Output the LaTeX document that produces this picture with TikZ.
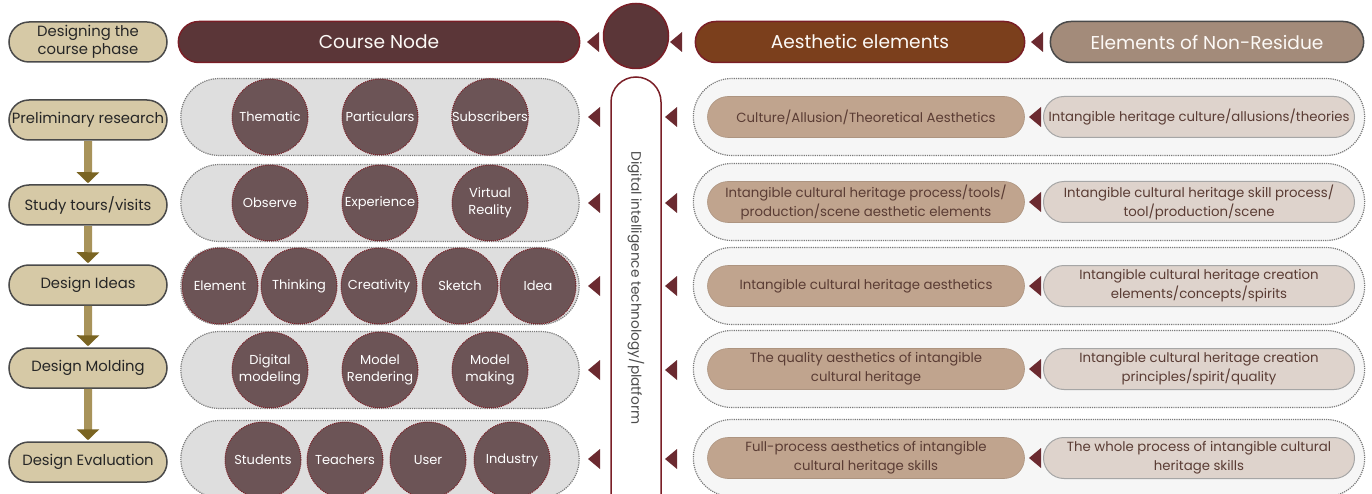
\documentclass[tikz,border=0pt]{standalone}
\usepackage{fontspec}
\setmainfont{Poppins}
\usepackage{tikz}
\usetikzlibrary{shapes.misc, arrows.meta, calc}
\definecolor{nodered}{HTML}{5B3638}
\definecolor{edgered}{HTML}{7A1E26}
\definecolor{aesbrown}{HTML}{7B3F1C}
\definecolor{resgray}{HTML}{A38B7A}
\definecolor{edgegray}{HTML}{4A4A4A}
\definecolor{phasetan}{HTML}{D6C9A6}
\definecolor{pillgray}{HTML}{DEDEDE}
\definecolor{pillwhite}{HTML}{F6F6F6}
\definecolor{dotgray}{HTML}{7A7A7A}
\definecolor{bubble}{HTML}{6C5456}
\definecolor{aesbox}{HTML}{C0A48E}
\definecolor{resbox}{HTML}{DED3CC}
\definecolor{boxtext}{HTML}{5A3C34}
\definecolor{arrowgold}{HTML}{7A6422}
\definecolor{shaftgold}{HTML}{A8935A}
\definecolor{pointcol}{HTML}{6B2A30}
\newcommand\pointer[1]{\fill[pointcol] (#1) +(-6,0) -- +(6,-10) -- +(6,10) -- cycle;}

\begin{document}
\begin{tikzpicture}[x=1pt,y=-1pt,
    phase/.style={draw=edgegray, line width=1.5pt, fill=phasetan, rounded rectangle,
        minimum width=160pt, minimum height=40pt, inner sep=1pt, align=center,
        text=black!85, font=\fontsize{14.8}{18}\selectfont},
    headbar/.style={draw=edgered, line width=1.5pt, rounded rectangle, minimum height=41pt,
        text=white!95!brown, font=\fontsize{18.6}{20}\selectfont},
    lpill/.style={draw=dotgray, densely dotted, line width=1.2pt, fill=pillgray,
        rounded rectangle, minimum width=405pt, minimum height=77pt},
    rpill/.style={draw=dotgray, densely dotted, line width=1.2pt, fill=pillwhite,
        rounded rectangle, minimum width=678pt, minimum height=77pt},
    bub/.style={circle, draw=edgered, densely dotted, line width=1pt, fill=bubble,
        minimum size=76pt, inner sep=0pt, align=center, text=white,
        font=\fontsize{13}{17}\selectfont},
    aes/.style={rounded rectangle, fill=aesbox, draw=aesbox!90!black, line width=.6pt,
        minimum width=319pt, minimum height=41pt, inner sep=1pt, align=center,
        text=boxtext, font=\fontsize{13.3}{19}\selectfont},
    res/.style={aes, fill=resbox, draw=gray!70, line width=1pt, minimum width=313pt},
    flow/.style={draw=shaftgold, line width=8pt, shorten >=1pt,
        -{Triangle[width=22pt, length=11pt, color=arrowgold]}}]
\useasboundingbox (0,0) rectangle (1372,494);

% header row
\node[phase] (head) at (88,42) {Designing the\\course phase};
\node[headbar, fill=nodered, minimum width=408pt] (course) at (379,42) {Course Node};
\node[circle, draw=edgered, line width=1.5pt, fill=nodered, minimum size=65pt] (hub) at (636,36) {};
\node[headbar, fill=aesbrown, minimum width=336pt] (aesthetic) at (860,42) {Aesthetic elements};
\node[headbar, fill=resgray, draw=edgegray, minimum width=320pt] (residue) at (1207,42) {Elements of Non-Residue};
\foreach \x in {593,676,1037} {\pointer{\x,42}}

% platform bar
\draw[edgered, line width=1.5pt, fill=white, rounded corners=25pt]
    (611,530) -- (611,77) -- (661,77) -- (661,530);
\node[rotate=-90, text=black!70, font=\fontsize{13.7}{14}\selectfont] (platform) at (636,288)
    {Digital intelligence technology/platform};

% phases
\foreach \y/\t [count=\i] in {120/Preliminary research, 205/{Study tours/visits},
    285/Design Ideas, 368/Design Molding, 462/Design Evaluation}
    \node[phase] (p\i) at (88,\y) {\t};
\foreach \a/\b in {p1/p2,p2/p3,p3/p4,p4/p5}
    \draw[flow] (\a) -- (\b);

% course node rows
\foreach \y [count=\i] in {117,203,286,370,459} {
    \node[lpill] (left\i) at (380,\y) {};
    \pointer{594,\y}
    \pointer{671,\y}
}
\foreach \x/\t [count=\i] in {270/Thematic, 380/Particulars, 490/Subscribers}
    \node[bub] (a\i) at (\x,117) {\t};
\foreach \x/\t [count=\i] in {270/Observe, 380/Experience, 490/{Virtual\\Reality}}
    \node[bub] (b\i) at (\x,203) {\t};
\foreach \x/\t [count=\i] in {220/Element, 299/Thinking, 379/Creativity, 460/Sketch, 538/Idea}
    \node[bub] (c\i) at (\x,286) {\t};
\foreach \x/\t [count=\i] in {270/{Digital\\modeling}, 380/{Model\\Rendering}, 490/{Model\\making}}
    \node[bub] (d\i) at (\x,370) {\t};
\foreach \x/\t [count=\i] in {263/Students, 345/Teachers, 428/User, 512/Industry}
    \node[bub] (e\i) at (\x,460) {\t};

% aesthetic rows
\foreach \y/\a/\b [count=\i] in {
    117/{Culture/Allusion/Theoretical Aesthetics}/{Intangible heritage culture/allusions/theories},
    202/{Intangible cultural heritage process/tools/\\production/scene aesthetic elements}/{Intangible cultural heritage skill process/\\tool/production/scene},
    286/{Intangible cultural heritage aesthetics}/{Intangible cultural heritage creation\\elements/concepts/spirits},
    369/{The quality aesthetics of intangible\\cultural heritage}/{Intangible cultural heritage creation\\principles/spirit/quality},
    458/{Full-process aesthetics of intangible\\cultural heritage skills}/{The whole process of intangible cultural\\heritage skills}} {
    \node[rpill] (right\i) at (1029,\y) {};
    \node[aes] (el\i) at (866,\y) {\a};
    \node[res] (nr\i) at (1199,\y) {\b};
    \pointer{1035,\y}
}
\end{tikzpicture}
\end{document}
